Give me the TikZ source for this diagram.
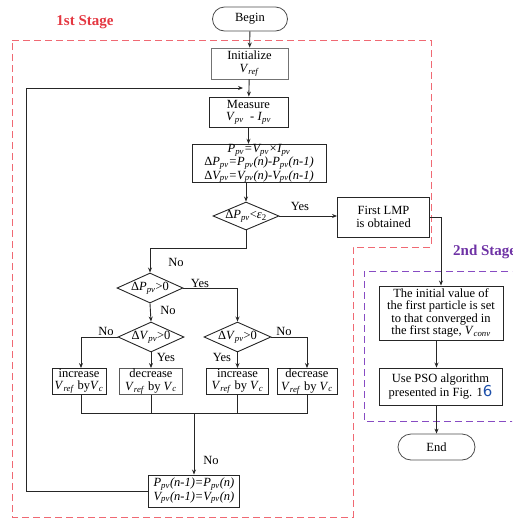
\documentclass[tikz,border=0pt]{standalone}
\usepackage{fontspec}
\setmainfont{Liberation Serif}
\newfontfamily\sixfont{DejaVu Sans}
\usetikzlibrary{shapes.geometric,shapes.misc,arrows.meta,calc}
\newcommand{\vs}[2]{\textit{#1}\textsubscript{\textit{#2}}}
\newcommand{\dtext}[1]{\smash{\makebox[0pt]{\raisebox{-0.5ex}{#1}}}}
\definecolor{stageone}{RGB}{240,105,115}
\definecolor{stageonetxt}{RGB}{228,55,65}
\definecolor{stagetwo}{RGB}{135,75,195}
\definecolor{stagetwotxt}{RGB}{110,50,165}
\definecolor{figblue}{RGB}{30,80,170}
\begin{document}
\begin{tikzpicture}[x=1pt,y=-1pt,
  font=\fontsize{12.5}{12.3}\selectfont,
  >={Stealth[length=5pt,width=4pt]},
  box/.style={draw=black!85,line width=0.9pt,align=center,inner sep=0pt},
  term/.style={draw=black!70,line width=0.8pt,rounded rectangle,inner sep=0pt,align=center},
  dia/.style={draw=black!85,line width=0.9pt,diamond,inner sep=0pt,minimum width=66,minimum height=30},
  conn/.style={draw=black!85,line width=0.9pt},
  lbl/.style={inner sep=1pt},
  itbox/.style={font=\fontsize{12.5}{12.3}\selectfont\itshape},
  stagebox/.style={line width=1pt,dash pattern=on 7pt off 4pt}]
\useasboundingbox (0,0) rectangle (512,520);
\clip (0,0) rectangle (512,520);

% stage frames
\draw[stagebox,draw=stageone] (12,40) -- (431,40) -- (431,247) -- (353,247) -- (353,517) -- (12,517) -- cycle;
\draw[stagebox,draw=stagetwo] (530,271) -- (364,271) -- (364,421) -- (530,421);
\node[text=stageonetxt,font=\fontsize{15}{15}\selectfont\bfseries] (t1) at (85,22) {1st Stage};
\node[text=stagetwotxt,font=\fontsize{15}{15}\selectfont\bfseries,anchor=west,inner sep=0pt] (t2) at (453,252) {2nd Stage};

% nodes
\node[term,minimum width=75,minimum height=24] (begin) at (250,19) {Begin};
\node[box,draw=black!55,minimum width=77,minimum height=31] (init) at (249.5,63.5) {Initialize\\\vs{V}{ref}};
\node[box,minimum width=79,minimum height=30] (meas) at (248.5,112) {Measure\\\vs{V}{pv}\; - \vs{I}{pv}};
\node[box,itbox,minimum width=134,minimum height=37] (comp) at (259,163.5)
  {\vs{P}{pv}=\vs{V}{pv}×\vs{I}{pv}\\
   {\upshape Δ}\vs{P}{pv}=\vs{P}{pv}(n)-\vs{P}{pv}(n-1)\\
   {\upshape Δ}\vs{V}{pv}=\vs{V}{pv}(n)-\vs{V}{pv}(n-1)};
\node[dia,minimum height=28] (d1) at (246,216) {\dtext{Δ\vs{P}{pv}<\textit{ε}\textsubscript{2}}};
\node[box,minimum width=92,minimum height=40] (lmp) at (383.5,217) {First LMP\\is obtained};
\node[dia] (d2) at (150,288) {\dtext{Δ\vs{P}{pv}>0}};
\node[dia] (d3) at (151,337) {\dtext{Δ\vs{V}{pv}>0}};
\node[dia,minimum width=67] (d4) at (237.5,337) {\dtext{Δ\vs{V}{pv}>0}};
\node[box,minimum width=54,minimum height=26] (ba) at (79,381.5) {increase\\\vs{V}{ref} by\vs{V}{c}};
\node[box,draw=black!65,minimum width=63,minimum height=26] (bb) at (151,381.5) {decrease\\\vs{V}{ref} by \vs{V}{c}};
\node[box,minimum width=62,minimum height=26] (bc) at (237.5,381.5) {increase\\\vs{V}{ref} by \vs{V}{c}};
\node[box,minimum width=60,minimum height=26] (bd) at (307,381.5) {decrease\\\vs{V}{ref} by \vs{V}{c}};
\node[box,itbox,minimum width=91,minimum height=32] (fin) at (194,491)
  {\vs{P}{pv}(n-1)=\vs{P}{pv}(n)\\\vs{V}{pv}(n-1)=\vs{V}{pv}(n)};
\node[box,minimum width=124,minimum height=54] (s1) at (441,313)
  {The initial value of\\the first particle is set\\to that converged in\\the first stage, \vs{V}{conv}};
\node[box,minimum width=123,minimum height=37] (s2) at (440.5,386.5)
  {Use PSO algorithm\\presented in Fig. 1{\sixfont\color{figblue}\fontsize{15}{15}\selectfont 6}};
\node[term,minimum width=77,minimum height=26] (end) at (436.5,447) {End};

% coordinates
\coordinate (j) at (194,413);
\coordinate (lp) at (26,88);
\coordinate (am) at (243,88);

% connectors
\draw[conn,->] (begin) -- (init);
\draw[conn,->] (init) -- (meas);
\draw[conn,->] (meas.south) -- (meas.south|-comp.north);
\draw[conn,->] (d1.north|-comp.south) -- (d1.north);
\draw[conn,->] (d1.east) -- (lmp.west|-d1.east);
\draw[conn,->] (d1.south) -- ++(0,18) -| (d2.north);
\draw[conn,->] (d2.east) -| (d4.north);
\draw[conn,->] (d2.south) -- (d3.north);
\draw[conn,->] (d3.west) -| ($(ba.north)+(2,0)$);
\draw[conn,->] (d3.south) -- (bb.north);
\draw[conn,->] (d4.south) -- (bc.north);
\draw[conn,->] (d4.east) -| (bd.north);
\draw[conn] ($(ba.south)+(2,0)$) |- (j);
\draw[conn] (bd.south) |- (j);
\draw[conn] (bb.south) -- (bb.south|-j);
\draw[conn] (bc.south) -- (bc.south|-j);
\draw[conn,->] (j) -- (fin.north);
\draw[conn,->] (fin.west) -| (lp) -- (am);
\draw[conn,->] (lmp.east) -| (s1.north);
\draw[conn,->] (s1.south-|end.north) -- (s2.north-|end.north);
\draw[conn,->] (s2.south-|end.north) -- (end.north);

% labels
\node[lbl] (y1) at (300,206) {Yes};
\node[lbl] (n1) at (176,262) {No};
\node[lbl] (y2) at (200,283) {Yes};
\node[lbl] (n2) at (168,310) {No};
\node[lbl] (n3) at (106,331) {No};
\node[lbl] (y3) at (166,357) {Yes};
\node[lbl] (y4) at (222,357) {Yes};
\node[lbl] (n4) at (284,331) {No};
\node[lbl] (n5) at (211,460) {No};
\end{tikzpicture}
\end{document}
